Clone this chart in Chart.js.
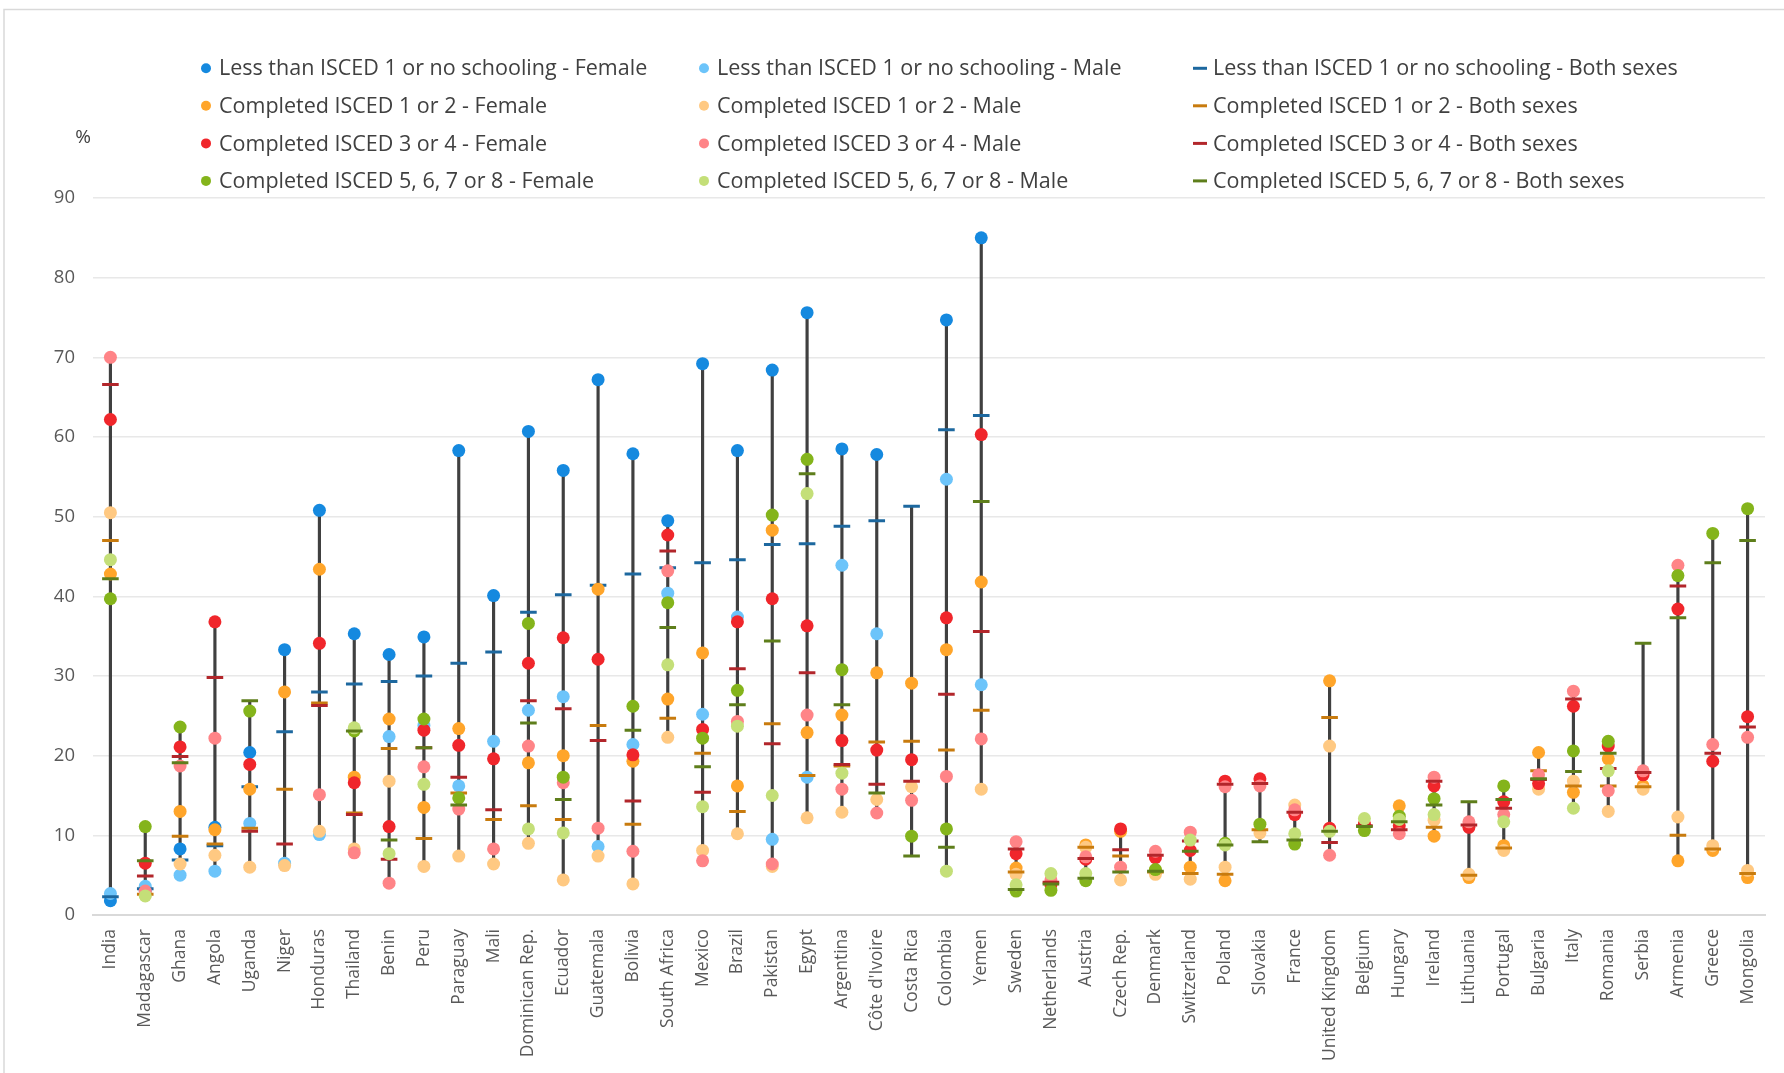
<!DOCTYPE html>
<html>
<head>
<meta charset="utf-8">
<script src="https://cdn.jsdelivr.net/npm/chart.js@4/dist/chart.umd.min.js"></script>
<style>
  html, body { margin: 0; padding: 0; background: #ffffff; }
  canvas { display: block; }
</style>
</head>
<body>
<canvas id="chart" width="1784" height="1073"></canvas>
<script>
// Countries along the x axis
const countries = ['India','Madagascar','Ghana','Angola','Uganda','Niger','Honduras','Thailand','Benin','Peru',
  'Paraguay','Mali','Dominican Rep.','Ecuador','Guatemala','Bolivia','South Africa','Mexico','Brazil','Pakistan',
  'Egypt','Argentina',"Côte d'Ivoire",'Costa Rica','Colombia','Yemen','Sweden','Netherlands','Austria','Czech Rep.',
  'Denmark','Switzerland','Poland','Slovakia','France','United Kingdom','Belgium','Hungary','Ireland','Lithuania',
  'Portugal','Bulgaria','Italy','Romania','Serbia','Armenia','Greece','Mongolia'];

const yTicks = [0, 10, 20, 30, 40, 50, 60, 70, 80, 90];

// Less than ISCED 1 or no schooling
const lessFemale = [1.8,3.0,8.3,11.0,20.4,33.3,50.8,35.3,32.7,34.9,58.3,40.1,60.7,55.8,67.2,57.9,49.5,69.2,58.3,68.4,75.6,58.5,57.8,null,74.7,85.0,
  null,null,null,null,null,null,null,null,null,null,null,null,null,null,null,null,null,null,null,null,null,null];
const lessMale = [2.7,3.6,5.0,5.5,11.5,6.5,10.1,23.3,22.4,23.8,16.2,21.8,25.7,27.4,8.6,21.4,40.4,25.2,37.4,9.5,17.3,43.9,35.3,null,54.7,28.9,
  null,null,null,null,null,null,null,null,null,null,null,null,null,null,null,null,null,null,null,null,null,null];
const lessBoth = [2.3,3.3,6.9,8.7,16.1,23.0,28.0,29.0,29.3,30.0,31.6,33.0,38.0,40.2,41.4,42.8,43.6,44.2,44.6,46.5,46.6,48.8,49.5,51.3,60.9,62.7,
  null,null,null,null,null,null,null,null,null,null,null,null,null,null,null,null,null,null,null,null,null,null];

// Completed ISCED 1 or 2
const isced12Female = [42.8,2.7,13.0,10.7,15.8,28.0,43.4,17.3,24.6,13.5,23.4,null,19.1,20.0,40.9,19.3,27.1,32.9,16.2,48.3,22.9,25.1,30.4,29.1,33.3,41.8,
  5.9,null,8.8,10.5,5.6,6.0,4.3,null,null,29.4,null,13.7,9.9,4.7,8.7,20.4,15.4,19.6,16.2,6.8,8.1,4.7];
const isced12Male = [50.5,2.5,6.4,7.5,6.0,6.2,10.5,8.3,16.8,6.1,7.4,6.4,9.0,4.4,7.4,3.9,22.3,8.1,10.2,6.1,12.2,12.9,14.5,16.1,null,15.8,
  5.1,null,8.5,4.4,5.1,4.5,6.0,10.3,13.8,21.2,null,null,11.9,5.1,8.1,15.8,16.8,13.0,15.8,12.3,8.7,5.6];
const isced12Both = [47.0,2.6,9.9,8.9,10.9,15.8,26.6,12.8,20.9,9.6,15.3,12.0,13.7,12.0,23.8,11.4,24.7,20.3,13.0,24.0,17.5,18.7,21.7,21.8,20.7,25.7,
  5.4,null,8.5,7.4,5.4,5.2,5.1,10.7,null,24.8,null,null,11.0,5.0,8.4,18.1,16.2,16.2,16.1,10.0,8.3,5.2];

// Completed ISCED 3 or 4
const isced34Female = [62.2,6.5,21.1,36.8,18.9,null,34.1,16.6,11.1,23.2,21.3,19.6,31.6,34.8,32.1,20.1,47.7,23.3,36.8,39.7,36.3,21.9,20.7,19.5,37.3,60.3,
  7.7,3.8,7.0,10.8,7.2,8.1,16.8,17.1,12.6,10.9,11.4,11.2,16.2,11.0,14.2,16.5,26.2,21.2,17.6,38.4,19.3,24.9];
const isced34Male = [70.0,3.0,18.7,22.2,null,null,15.1,7.8,4.0,18.6,13.3,8.3,21.2,16.6,10.9,8.0,43.2,6.8,24.3,6.4,25.1,15.8,12.8,14.4,17.4,22.1,
  9.2,4.4,7.3,6.0,8.0,10.4,16.1,16.2,13.2,7.5,null,10.2,17.3,11.7,12.6,17.6,28.1,15.6,18.1,43.9,21.4,22.3];
const isced34Both = [66.6,4.9,19.9,29.8,10.5,8.9,26.3,12.6,7.0,21.0,17.3,13.2,26.9,25.9,21.9,14.3,45.7,15.4,30.9,21.5,30.4,18.9,16.4,16.8,27.7,35.6,
  8.3,4.1,7.1,8.2,7.5,9.3,16.4,16.5,12.9,9.1,11.2,10.7,16.8,11.3,13.4,17.0,27.1,18.4,17.9,41.3,20.3,23.6];

// Completed ISCED 5, 6, 7 or 8
const isced58Female = [39.7,11.1,23.6,null,25.6,null,null,23.1,null,24.6,14.7,null,36.6,17.3,null,26.2,39.2,22.2,28.2,50.2,57.2,30.8,null,9.9,10.8,null,
  3.0,3.1,4.3,null,5.7,null,9.0,11.4,8.9,null,10.6,12.4,14.6,null,16.2,null,20.6,21.8,null,42.6,47.9,51.0];
const isced58Male = [44.6,2.4,null,null,null,null,null,23.5,7.7,16.4,null,null,10.8,10.3,null,null,31.4,13.6,23.7,15.0,52.9,17.8,null,null,5.5,null,
  3.8,5.2,5.2,null,null,9.4,8.8,null,10.2,10.5,12.1,12.0,12.6,null,11.7,null,13.4,18.1,null,null,null,null];
const isced58Both = [42.2,6.8,19.1,null,26.9,null,null,23.1,9.4,21.0,13.8,null,24.1,14.5,null,23.2,36.1,18.6,26.4,34.4,55.4,26.4,15.3,7.4,8.5,51.9,
  3.2,3.9,4.6,5.4,5.5,8.0,8.8,9.2,9.4,10.5,11.1,11.7,13.8,14.2,14.5,17.1,18.0,20.3,34.1,37.3,44.2,47.0];

// Series in legend order: each row is one attainment level, columns Female / Male / Both sexes
const series = [
  { label: 'Less than ISCED 1 or no schooling - Female',      data: lessFemale,    color: '#1589DF', mark: 'dot'  },
  { label: 'Less than ISCED 1 or no schooling - Male',        data: lessMale,      color: '#6CC4FA', mark: 'dot'  },
  { label: 'Less than ISCED 1 or no schooling - Both sexes',  data: lessBoth,      color: '#1D689F', mark: 'dash' },
  { label: 'Completed ISCED 1 or 2 - Female',                 data: isced12Female, color: '#FFA52A', mark: 'dot'  },
  { label: 'Completed ISCED 1 or 2 - Male',                   data: isced12Male,   color: '#FFC982', mark: 'dot'  },
  { label: 'Completed ISCED 1 or 2 - Both sexes',             data: isced12Both,   color: '#C87B0E', mark: 'dash' },
  { label: 'Completed ISCED 3 or 4 - Female',                 data: isced34Female, color: '#F0262B', mark: 'dot'  },
  { label: 'Completed ISCED 3 or 4 - Male',                   data: isced34Male,   color: '#FF8487', mark: 'dot'  },
  { label: 'Completed ISCED 3 or 4 - Both sexes',             data: isced34Both,   color: '#B2262B', mark: 'dash' },
  { label: 'Completed ISCED 5, 6, 7 or 8 - Female',           data: isced58Female, color: '#84B41B', mark: 'dot'  },
  { label: 'Completed ISCED 5, 6, 7 or 8 - Male',             data: isced58Male,   color: '#C4DF78', mark: 'dot'  },
  { label: 'Completed ISCED 5, 6, 7 or 8 - Both sexes',       data: isced58Both,   color: '#5E7E1B', mark: 'dash' }
];

// Vertical range per country: from the lowest to the highest value of any series
const ranges = countries.map((_, i) => {
  const vals = series.map(s => s.data[i]).filter(v => v !== null && v !== undefined);
  return vals.length ? [Math.min(...vals), Math.max(...vals)] : null;
});

const FONT = "'Open Sans', 'DejaVu Sans', sans-serif";
const TEXT = '#595959';

const datasets = [
  {
    type: 'bar',
    label: 'range',
    data: ranges,
    backgroundColor: '#404040',
    borderWidth: 0,
    barThickness: 2.5,
    order: 50
  }
].concat(series.map((s, k) => ({
  type: 'line',
  label: s.label,
  data: s.data,
  showLine: false,
  order: series.length - k,
  pointStyle: s.mark === 'dot' ? 'circle' : 'line',
  pointRadius: s.mark === 'dot' ? 6.5 : 8.3,
  pointHoverRadius: s.mark === 'dot' ? 6.5 : 8.3,
  pointBackgroundColor: s.color,
  pointBorderColor: s.color,
  pointBorderWidth: s.mark === 'dot' ? 0 : 3
})));

// Frame, unit label and the three-column legend
const decorations = {
  id: 'decorations',
  beforeDraw(chart) {
    const ctx = chart.ctx;
    ctx.save();
    ctx.strokeStyle = '#d9d9d9';
    ctx.lineWidth = 1.5;
    ctx.beginPath();
    ctx.moveTo(4, chart.height + 5);
    ctx.lineTo(4, 9.5);
    ctx.lineTo(chart.width + 5, 9.5);
    ctx.stroke();
    ctx.restore();
  },
  afterDraw(chart) {
    const ctx = chart.ctx;
    ctx.save();
    ctx.fillStyle = '#404040';
    ctx.font = '19px ' + FONT;
    ctx.textAlign = 'center';
    ctx.textBaseline = 'middle';
    ctx.fillText('%', 83, 138);

    const colX = [206, 704, 1200];
    const rowY = [68.3, 105.8, 143.4, 180.9];
    ctx.font = '21.5px ' + FONT;
    ctx.textAlign = 'left';
    series.forEach((s, k) => {
      const x = colX[k % 3];
      const y = rowY[Math.floor(k / 3)];
      if (s.mark === 'dot') {
        ctx.fillStyle = s.color;
        ctx.beginPath();
        ctx.arc(x, y, 5, 0, Math.PI * 2);
        ctx.fill();
      } else {
        ctx.strokeStyle = s.color;
        ctx.lineWidth = 3;
        ctx.beginPath();
        ctx.moveTo(x - 7, y);
        ctx.lineTo(x + 7, y);
        ctx.stroke();
      }
      ctx.fillStyle = '#404040';
      ctx.fillText(s.label, x + 13, y + 1);
    });
    ctx.restore();
  }
};

new Chart(document.getElementById('chart'), {
  type: 'bar',
  data: { labels: countries, datasets: datasets },
  plugins: [decorations],
  options: {
    responsive: false,
    animation: false,
    devicePixelRatio: 1,
    layout: { padding: { top: 198, right: 19, left: 0, bottom: 0 } },
    plugins: {
      legend: { display: false },
      tooltip: { enabled: false }
    },
    scales: {
      x: {
        type: 'category',
        offset: true,
        grid: { display: false, drawTicks: false },
        border: { display: true, color: '#d9d9d9', width: 2 },
        ticks: {
          autoSkip: false,
          minRotation: 90,
          maxRotation: 90,
          padding: 14,
          color: TEXT,
          font: { family: FONT, size: 17.5 }
        },
        afterFit(scale) { scale.height = 1073 - 915; }
      },
      y: {
        min: 0,
        max: 90,
        afterBuildTicks(scale) { scale.ticks = yTicks.map(v => ({ value: v })); },
        grid: { color: '#e8e8e8', lineWidth: 1.5, drawTicks: false },
        border: { display: false },
        ticks: {
          padding: 18,
          color: TEXT,
          font: { family: FONT, size: 18.5 }
        },
        afterFit(scale) { scale.width = 93; }
      }
    }
  }
});
</script>
</body>
</html>
